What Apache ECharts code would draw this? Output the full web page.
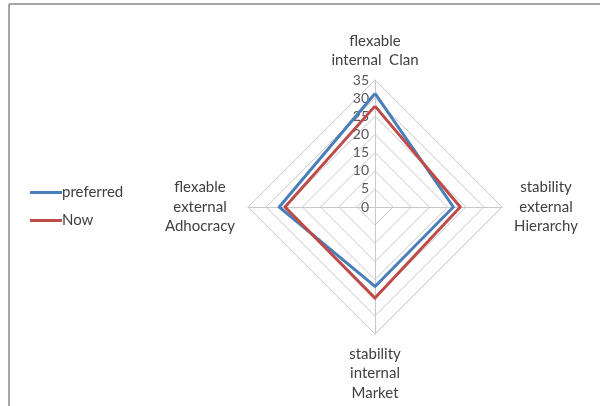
<!DOCTYPE html>
<html>
<head>
<meta charset="utf-8">
<script src="https://cdn.jsdelivr.net/npm/echarts@6/dist/echarts.min.js"></script>
<style>html,body{margin:0;padding:0;background:#fff}#c{width:600px;height:406px}</style>
</head>
<body>
<div id="c"></div>
<script>
var indicatorNames = ['flexable\ninternal  Clan', 'flexable\nexternal\nAdhocracy', 'stability\ninternal\nMarket', 'stability\nexternal\nHierarchy'];
var seriesNames = ['preferred', 'Now'];
var preferred = [31.3, 26.4, 21.9, 21.6];
var now = [27.8, 24.8, 25.1, 23.5];
var maxValue = 35;
var tickStep = 5;

var chart = echarts.init(document.getElementById('c'));
var font = 'Lato, "Liberation Sans", sans-serif';
var nameKeys = ['t', 'l', 'b', 'r'];
var indicators = indicatorNames.map(function (n, i) {
  var o = { name: n, max: maxValue, min: 0 };
  if (i === 0) {
    o.axisLabel = { show: true, color: '#595959', fontSize: 14, fontFamily: font, margin: 6 };
  }
  return o;
});
function richStyle(w) {
  return { width: w, align: 'center', color: '#404040', fontFamily: font, fontSize: 15, lineHeight: 19.5 };
}
chart.setOption({
  animation: false,
  graphic: [
    { type: 'line', shape: { x1: 9, y1: 4, x2: 600, y2: 4 }, style: { stroke: '#888', lineWidth: 1.5 } },
    { type: 'line', shape: { x1: 9, y1: 4, x2: 9, y2: 406 }, style: { stroke: '#888', lineWidth: 1.5 } }
  ],
  legend: {
    orient: 'vertical', left: 25, top: 180, itemWidth: 32, itemHeight: 3, itemGap: 13,
    icon: 'rect',
    textStyle: { fontFamily: font, fontSize: 15, color: '#404040', padding: [0, 0, 0, -5] },
    data: seriesNames
  },
  radar: {
    center: [375, 207], radius: 127, startAngle: 90,
    splitNumber: maxValue / tickStep,
    shape: 'polygon',
    nameGap: 10,
    axisName: {
      color: '#404040', fontFamily: font, fontSize: 15, lineHeight: 19.5,
      formatter: function (name) {
        var k = nameKeys[indicatorNames.indexOf(name)];
        return name.split('\n').map(function (s) { return '{' + k + '|' + s + '}'; }).join('\n');
      },
      rich: { t: richStyle(95), l: richStyle(76), b: richStyle(70), r: richStyle(68) }
    },
    axisLine: { lineStyle: { color: '#c8c8c8', width: 1 } },
    splitLine: { lineStyle: { color: '#c8c8c8', width: 1 } },
    splitArea: { show: false },
    axisLabel: { show: false },
    indicator: indicators
  },
  series: [{
    type: 'radar', symbol: 'none',
    data: [
      { name: seriesNames[0], value: preferred, lineStyle: { color: '#4a7ebb', width: 3 }, itemStyle: { color: '#4a7ebb' } },
      { name: seriesNames[1], value: now, lineStyle: { color: '#be4b48', width: 3 }, itemStyle: { color: '#be4b48' } }
    ]
  }]
});
</script>
</body>
</html>
